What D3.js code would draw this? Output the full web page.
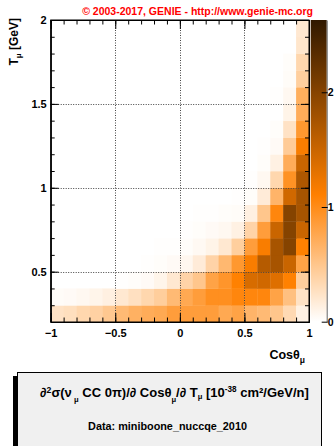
<!DOCTYPE html>
<html>
<head>
<meta charset="utf-8">
<script src="https://cdn.jsdelivr.net/npm/d3@7"></script>
<style>
  html, body { margin: 0; padding: 0; background: #fff; }
  svg { display: block; font-family: "Liberation Sans", Arial, Helvetica, sans-serif; font-weight: bold; }
</style>
</head>
<body>
<svg id="chart" width="334" height="446"></svg>
<script>
// Bin edges of the double-differential measurement
const cosEdges = d3.range(21).map(i => -1 + i * 0.1);
const tEdges = d3.range(19).map(i => 0.2 + i * 0.1);

// d2sigma / dcos dT [1e-38 cm^2/GeV/n]; one row per T_mu bin (0.2 GeV upward),
// one entry per cos(theta_mu) bin (-1 upward)
const xsecRows = [
  [0.25,0.28,0.35,0.40,0.48,0.60,0.68,0.72,0.75,0.85, 0.85,0.85,0.85,0.75,0.80,0.65,0.60,0.50,0.33,0.12],
  [0.03,0.04,0.06,0.09,0.13,0.20,0.27,0.35,0.43,0.60, 0.75,0.85,0.97,0.97,1.05,1.05,1.05,0.80,0.55,0.25],
  [0,0,0,0,0,0.01,0.02,0.04,0.09,0.20, 0.38,0.50,0.80,0.92,1.10,1.40,1.45,1.35,1.10,0.43],
  [0,0,0,0,0,0,0,0.01,0.02,0.04, 0.07,0.17,0.38,0.62,0.90,1.15,1.65,1.75,1.50,0.80],
  [0,0,0,0,0,0,0,0,0.01,0.01, 0.02,0.05,0.10,0.20,0.42,0.85,1.15,1.75,2.00,1.10],
  [0,0,0,0,0,0,0,0,0,0, 0.01,0.02,0.04,0.06,0.12,0.38,0.85,1.50,2.00,1.50],
  [0,0,0,0,0,0,0,0,0,0, 0,0.01,0.01,0.02,0.03,0.13,0.50,1.05,2.00,1.75],
  [0,0,0,0,0,0,0,0,0,0, 0,0,0,0,0.01,0.02,0.17,0.65,1.45,1.75],
  [0,0,0,0,0,0,0,0,0,0, 0,0,0,0,0,0.01,0.06,0.35,0.95,1.70],
  [0,0,0,0,0,0,0,0,0,0, 0,0,0,0,0,0,0.02,0.12,0.72,1.50],
  [0,0,0,0,0,0,0,0,0,0, 0,0,0,0,0,0,0.01,0.04,0.45,1.15],
  [0,0,0,0,0,0,0,0,0,0, 0,0,0,0,0,0,0,0.02,0.25,0.90],
  [0,0,0,0,0,0,0,0,0,0, 0,0,0,0,0,0,0,0,0.10,0.72],
  [0,0,0,0,0,0,0,0,0,0, 0,0,0,0,0,0,0,0.01,0.06,0.70],
  [0,0,0,0,0,0,0,0,0,0, 0,0,0,0,0,0,0,0,0.03,0.42],
  [0,0,0,0,0,0,0,0,0,0, 0,0,0,0,0,0,0,0,0.02,0.35],
  [0,0,0,0,0,0,0,0,0,0, 0,0,0,0,0,0,0,0,0,0.22],
  [0,0,0,0,0,0,0,0,0,0, 0,0,0,0,0,0,0,0,0,0.20]
];

const xMajorTicks = [-1, -0.5, 0, 0.5, 1];
const yMajorTicks = [0.5, 1, 1.5, 2];
const zTicks = [0, 1, 2];
const zMax = 2.63;

const svg = d3.select("#chart");

const plot = { left: 50.7, right: 309, top: 20, bottom: 322 };
const x = d3.scaleLinear().domain([-1, 1]).range([plot.left, plot.right]);
const y = d3.scaleLinear().domain([0.2, 2.0]).range([plot.bottom, plot.top]);

// white -> orange -> dark brown palette
const color = d3.scaleLinear()
  .domain([0, 0.42 * zMax, zMax])
  .range(["#ffffff", "#ff8000", "#301800"])
  .interpolate(d3.interpolateRgb)
  .clamp(true);

// Cells
const cells = [];
xsecRows.forEach((row, j) => row.forEach((v, i) => {
  if (v > 0) cells.push({ x0: cosEdges[i], x1: cosEdges[i + 1], y0: tEdges[j], y1: tEdges[j + 1], v });
}));

svg.append("g").selectAll("rect").data(cells).join("rect")
  .attr("x", d => x(d.x0))
  .attr("y", d => y(d.y1))
  .attr("width", d => x(d.x1) - x(d.x0) + 0.4)
  .attr("height", d => y(d.y0) - y(d.y1) + 0.4)
  .attr("fill", d => color(d.v));

// Dotted grid at major ticks
const grid = svg.append("g").attr("stroke", "#444").attr("stroke-width", 1).attr("stroke-dasharray", "1,1.5");
xMajorTicks.slice(1, -1).forEach(v => grid.append("line")
  .attr("x1", Math.round(x(v)) + 0.5).attr("x2", Math.round(x(v)) + 0.5)
  .attr("y1", plot.top).attr("y2", plot.bottom));
yMajorTicks.slice(0, -1).forEach(v => grid.append("line")
  .attr("y1", Math.round(y(v)) + 0.5).attr("y2", Math.round(y(v)) + 0.5)
  .attr("x1", plot.left).attr("x2", plot.right));

// Axes: ticks point inward on all four sides
const fmt = d3.format("~g");
const xMinor = d3.range(-10, 11).map(i => i / 10);
const yMinor = d3.range(2, 21).map(i => i / 10);

function styleAxis(g) {
  g.selectAll("text").attr("font-size", 11).attr("font-weight", "bold").attr("fill", "#000")
    .attr("font-family", "Liberation Sans, Arial, sans-serif");
  g.selectAll("line").attr("stroke", "#000");
  g.select(".domain").attr("stroke", "#000");
}

svg.append("g").attr("transform", `translate(0,${plot.bottom})`)
  .call(d3.axisBottom(x).tickValues(xMinor).tickSize(-4.5).tickFormat("").tickSizeOuter(0)).call(styleAxis);
svg.append("g").attr("transform", `translate(0,${plot.bottom})`)
  .call(d3.axisBottom(x).tickValues(xMajorTicks).tickSize(-9).tickPadding(7).tickFormat(fmt).tickSizeOuter(0)).call(styleAxis);
svg.append("g").attr("transform", `translate(0,${plot.top})`)
  .call(d3.axisTop(x).tickValues(xMinor).tickSize(-4.5).tickFormat("").tickSizeOuter(0)).call(styleAxis);
svg.append("g").attr("transform", `translate(0,${plot.top})`)
  .call(d3.axisTop(x).tickValues(xMajorTicks).tickSize(-9).tickFormat("").tickSizeOuter(0)).call(styleAxis);

svg.append("g").attr("transform", `translate(${plot.left},0)`)
  .call(d3.axisLeft(y).tickValues(yMinor).tickSize(-4).tickFormat("").tickSizeOuter(0)).call(styleAxis);
svg.append("g").attr("transform", `translate(${plot.left},0)`)
  .call(d3.axisLeft(y).tickValues(yMajorTicks).tickSize(-8).tickPadding(4).tickFormat(fmt).tickSizeOuter(0)).call(styleAxis);
svg.append("g").attr("transform", `translate(${plot.right},0)`)
  .call(d3.axisRight(y).tickValues(yMinor).tickSize(-4).tickFormat("").tickSizeOuter(0)).call(styleAxis);
svg.append("g").attr("transform", `translate(${plot.right},0)`)
  .call(d3.axisRight(y).tickValues(yMajorTicks).tickSize(-8).tickFormat("").tickSizeOuter(0)).call(styleAxis);

// Colour bar
const cb = { left: 310.7, right: 326.7, top: 20, bottom: 321.7 };
const z = d3.scaleLinear().domain([0, zMax]).range([cb.bottom, cb.top]);
const defs = svg.append("defs");
const grad = defs.append("linearGradient").attr("id", "zgrad")
  .attr("x1", 0).attr("y1", 1).attr("x2", 0).attr("y2", 0);
d3.range(0, 1.0001, 0.02).forEach(t => grad.append("stop")
  .attr("offset", t).attr("stop-color", color(t * zMax)));
svg.append("rect").attr("x", cb.left).attr("y", cb.top)
  .attr("width", cb.right - cb.left).attr("height", cb.bottom - cb.top)
  .attr("fill", "url(#zgrad)");
svg.append("g").attr("transform", `translate(${cb.right},0)`)
  .call(d3.axisRight(z).tickValues(zTicks).tickSize(-6).tickPadding(1).tickFormat(fmt).tickSizeOuter(0))
  .call(styleAxis)
  .call(g => g.selectAll("text").attr("font-size", 10.5))
  .call(g => g.select(".domain").attr("stroke", "#666"))
  .call(g => g.selectAll(".tick line").attr("x2", -6).attr("transform", "translate(1,0)"));

// Plot frame
svg.append("rect").attr("x", plot.left).attr("y", plot.top)
  .attr("width", plot.right - plot.left).attr("height", plot.bottom - plot.top)
  .attr("fill", "none").attr("stroke", "#000").attr("stroke-width", 1);

// Copyright banner
svg.append("text").attr("x", 313).attr("y", 15).attr("text-anchor", "end")
  .attr("font-size", 10.5).attr("fill", "#ff0000")
  .text("© 2003-2017, GENIE - http://www.genie-mc.org");

// Axis titles
const yTitle = svg.append("text")
  .attr("transform", "translate(18,18) rotate(-90)")
  .attr("text-anchor", "end").attr("font-size", 12);
yTitle.append("tspan").text("T");
yTitle.append("tspan").attr("font-size", 8).attr("dy", 3).text("μ");
yTitle.append("tspan").attr("dy", -3).text(" [GeV]");

const xTitle = svg.append("text").attr("x", 305).attr("y", 359)
  .attr("text-anchor", "end").attr("font-size", 12.5);
xTitle.append("tspan").text("Cosθ");
xTitle.append("tspan").attr("font-size", 8.5).attr("dy", 4).text("μ");

// Legend pave with shadow
svg.append("rect").attr("x", 13).attr("y", 376).attr("width", 305).attr("height", 80).attr("fill", "#000");
svg.append("rect").attr("x", 17.5).attr("y", 372.5).attr("width", 304).attr("height", 80)
  .attr("fill", "#f0f0f0").attr("stroke", "#000").attr("stroke-width", 1);

// Fit a text line to a given width by scaling its font size
function fitWidth(t, width) {
  const base = +t.attr("font-size");
  const w = t.node().getComputedTextLength();
  const k = width / w;
  t.attr("font-size", base * k);
  t.selectAll("tspan").each(function () {
    const s = d3.select(this);
    if (s.attr("font-size")) s.attr("font-size", +s.attr("font-size") * k);
    if (s.attr("dy")) s.attr("dy", +s.attr("dy") * k);
  });
}

const l1 = svg.append("text").attr("x", 174.5).attr("y", 397).attr("text-anchor", "middle").attr("font-size", 12);
l1.append("tspan").text("∂");
l1.append("tspan").attr("font-size", 8).attr("dy", -4).text("2");
l1.append("tspan").attr("dy", 4).text("σ(ν");
l1.append("tspan").attr("font-size", 7).attr("dy", 5).text(" μ");
l1.append("tspan").attr("dy", -5).text(" CC 0π)/∂ Cosθ");
l1.append("tspan").attr("font-size", 7).attr("dy", 5).text("μ");
l1.append("tspan").attr("dy", -5).text("/∂ T");
l1.append("tspan").attr("font-size", 7).attr("dy", 2).text("μ");
l1.append("tspan").attr("dy", -2).text(" [10");
l1.append("tspan").attr("font-size", 7.5).attr("dy", -5).text("-38");
l1.append("tspan").attr("dy", 5).text(" cm²/GeV/n]");
fitWidth(l1, 269);

const l2 = svg.append("text").attr("x", 167.5).attr("y", 430).attr("text-anchor", "middle").attr("font-size", 12)
  .text("Data: miniboone_nuccqe_2010");
fitWidth(l2, 159);
</script>
</body>
</html>
